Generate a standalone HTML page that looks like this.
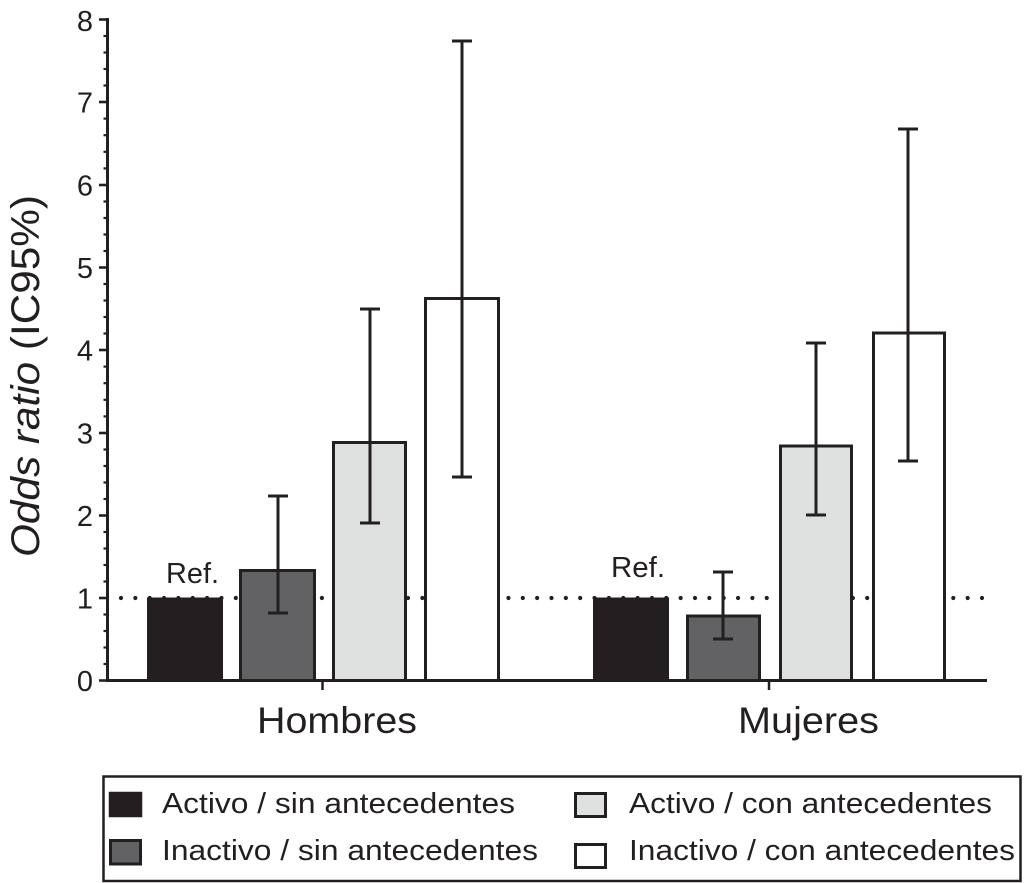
<!DOCTYPE html>
<html>
<head>
<meta charset="utf-8">
<style>
  html, body { margin: 0; padding: 0; background: #ffffff; }
  svg { display: block; }
  text { font-family: "Liberation Sans", Arial, sans-serif; fill: #231f20; }
</style>
</head>
<body>
<svg width="1024" height="883" viewBox="0 0 1024 883" xmlns="http://www.w3.org/2000/svg">
  <rect x="0" y="0" width="1024" height="883" fill="#ffffff"/>

  <!-- Y axis label -->
  <text transform="translate(39,557) rotate(-90)" font-size="40" textLength="362" lengthAdjust="spacingAndGlyphs"><tspan font-style="italic">Odds ratio</tspan> (IC95%)</text>

  <!-- Y tick labels -->
  <g font-size="29" text-anchor="end">
    <text x="93" y="691">0</text>
    <text x="93" y="608.5">1</text>
    <text x="93" y="526">2</text>
    <text x="93" y="443.5">3</text>
    <text x="93" y="360.5">4</text>
    <text x="93" y="278">5</text>
    <text x="93" y="195.5">6</text>
    <text x="93" y="112.5">7</text>
    <text x="93" y="31">8</text>
  </g>

  <!-- dotted reference line -->
  <line x1="121" y1="598" x2="983" y2="598" stroke="#231f20" stroke-width="4.2" stroke-linecap="round" stroke-dasharray="0 14.35"/>

  <!-- Bars Hombres -->
  <g stroke="#231f20" stroke-width="3">
    <rect x="148.5" y="599" width="73" height="81" fill="#231f20"/>
    <rect x="240.5" y="570.5" width="74" height="110" fill="#626264"/>
    <rect x="333.5" y="442.5" width="72" height="238" fill="#dfe0e0"/>
    <rect x="425.5" y="298.5" width="73" height="382" fill="#ffffff"/>
  </g>
  <!-- Bars Mujeres -->
  <g stroke="#231f20" stroke-width="3">
    <rect x="594.5" y="599" width="73" height="81" fill="#231f20"/>
    <rect x="687.5" y="616" width="72" height="64.5" fill="#626264"/>
    <rect x="780.5" y="446" width="71" height="234.5" fill="#dfe0e0"/>
    <rect x="873.5" y="333" width="71" height="347.5" fill="#ffffff"/>
  </g>

  <!-- Error bars -->
  <g stroke="#231f20" stroke-width="3" fill="none">
    <line x1="278" y1="496" x2="278" y2="613"/>
    <line x1="268" y1="496" x2="288" y2="496"/>
    <line x1="268" y1="613" x2="288" y2="613"/>

    <line x1="370" y1="309" x2="370" y2="523"/>
    <line x1="360" y1="309" x2="380" y2="309"/>
    <line x1="360" y1="523" x2="380" y2="523"/>

    <line x1="462" y1="41" x2="462" y2="477"/>
    <line x1="452" y1="41" x2="472" y2="41"/>
    <line x1="452" y1="477" x2="472" y2="477"/>

    <line x1="723" y1="572" x2="723" y2="639"/>
    <line x1="713" y1="572" x2="733" y2="572"/>
    <line x1="713" y1="639" x2="733" y2="639"/>

    <line x1="816" y1="343" x2="816" y2="515"/>
    <line x1="806" y1="343" x2="826" y2="343"/>
    <line x1="806" y1="515" x2="826" y2="515"/>

    <line x1="908" y1="129" x2="908" y2="461"/>
    <line x1="898" y1="129" x2="918" y2="129"/>
    <line x1="898" y1="461" x2="918" y2="461"/>
  </g>

  <!-- Axes -->
  <g stroke="#231f20">
    <line x1="107.5" y1="18" x2="107.5" y2="682" stroke-width="3"/>
    <line x1="106" y1="680.5" x2="987" y2="680.5" stroke-width="3"/>
    <g stroke-width="2.6">
      <line x1="99" y1="680.5" x2="108" y2="680.5"/>
      <line x1="99" y1="598" x2="108" y2="598"/>
      <line x1="99" y1="515.5" x2="108" y2="515.5"/>
      <line x1="99" y1="433" x2="108" y2="433"/>
      <line x1="99" y1="350" x2="108" y2="350"/>
      <line x1="99" y1="267.5" x2="108" y2="267.5"/>
      <line x1="99" y1="185" x2="108" y2="185"/>
      <line x1="99" y1="102" x2="108" y2="102"/>
      <line x1="99" y1="19.5" x2="108" y2="19.5"/>
    </g>
    <g stroke-width="2.2">
      <line x1="103.5" y1="664" x2="108" y2="664"/>
      <line x1="103.5" y1="647.5" x2="108" y2="647.5"/>
      <line x1="103.5" y1="631" x2="108" y2="631"/>
      <line x1="103.5" y1="614.5" x2="108" y2="614.5"/>
      <line x1="103.5" y1="581.5" x2="108" y2="581.5"/>
      <line x1="103.5" y1="565" x2="108" y2="565"/>
      <line x1="103.5" y1="548.5" x2="108" y2="548.5"/>
      <line x1="103.5" y1="532" x2="108" y2="532"/>
      <line x1="103.5" y1="499" x2="108" y2="499"/>
      <line x1="103.5" y1="482.5" x2="108" y2="482.5"/>
      <line x1="103.5" y1="466" x2="108" y2="466"/>
      <line x1="103.5" y1="449.5" x2="108" y2="449.5"/>
      <line x1="103.5" y1="416.4" x2="108" y2="416.4"/>
      <line x1="103.5" y1="399.8" x2="108" y2="399.8"/>
      <line x1="103.5" y1="383.2" x2="108" y2="383.2"/>
      <line x1="103.5" y1="366.6" x2="108" y2="366.6"/>
      <line x1="103.5" y1="333.5" x2="108" y2="333.5"/>
      <line x1="103.5" y1="317" x2="108" y2="317"/>
      <line x1="103.5" y1="300.5" x2="108" y2="300.5"/>
      <line x1="103.5" y1="284" x2="108" y2="284"/>
      <line x1="103.5" y1="251" x2="108" y2="251"/>
      <line x1="103.5" y1="234.5" x2="108" y2="234.5"/>
      <line x1="103.5" y1="218" x2="108" y2="218"/>
      <line x1="103.5" y1="201.5" x2="108" y2="201.5"/>
      <line x1="103.5" y1="168.4" x2="108" y2="168.4"/>
      <line x1="103.5" y1="151.8" x2="108" y2="151.8"/>
      <line x1="103.5" y1="135.2" x2="108" y2="135.2"/>
      <line x1="103.5" y1="118.6" x2="108" y2="118.6"/>
      <line x1="103.5" y1="85.5" x2="108" y2="85.5"/>
      <line x1="103.5" y1="69" x2="108" y2="69"/>
      <line x1="103.5" y1="52.5" x2="108" y2="52.5"/>
      <line x1="103.5" y1="36" x2="108" y2="36"/>
    </g>
    <line x1="322.5" y1="680" x2="322.5" y2="690" stroke-width="2.5"/>
    <line x1="769" y1="680" x2="769" y2="690" stroke-width="2.5"/>
  </g>

  <!-- Ref labels -->
  <text x="166" y="583" font-size="29" textLength="53" lengthAdjust="spacingAndGlyphs">Ref.</text>
  <text x="611" y="577" font-size="29" textLength="54" lengthAdjust="spacingAndGlyphs">Ref.</text>

  <!-- Category labels -->
  <text x="257" y="733" font-size="37" textLength="160" lengthAdjust="spacingAndGlyphs">Hombres</text>
  <text x="738" y="733" font-size="37" textLength="141" lengthAdjust="spacingAndGlyphs">Mujeres</text>

  <!-- Legend -->
  <rect x="103.5" y="776.5" width="917" height="104.5" fill="#ffffff" stroke="#231f20" stroke-width="2.5"/>
  <rect x="110" y="793" width="31" height="23" fill="#231f20" stroke="#231f20" stroke-width="2.5"/>
  <rect x="110.5" y="840.5" width="30" height="23.5" fill="#626264" stroke="#231f20" stroke-width="3"/>
  <rect x="575.5" y="793.5" width="30" height="23" fill="#dfe0e0" stroke="#231f20" stroke-width="3"/>
  <rect x="575.5" y="844.5" width="30" height="23" fill="#ffffff" stroke="#231f20" stroke-width="3"/>

  <g font-size="29">
    <text x="162" y="813" textLength="353" lengthAdjust="spacingAndGlyphs">Activo / sin antecedentes</text>
    <text x="162" y="860" textLength="376" lengthAdjust="spacingAndGlyphs">Inactivo / sin antecedentes</text>
    <text x="629" y="813" textLength="363" lengthAdjust="spacingAndGlyphs">Activo / con antecedentes</text>
    <text x="629" y="860" textLength="386" lengthAdjust="spacingAndGlyphs">Inactivo / con antecedentes</text>
  </g>
</svg>
</body>
</html>
